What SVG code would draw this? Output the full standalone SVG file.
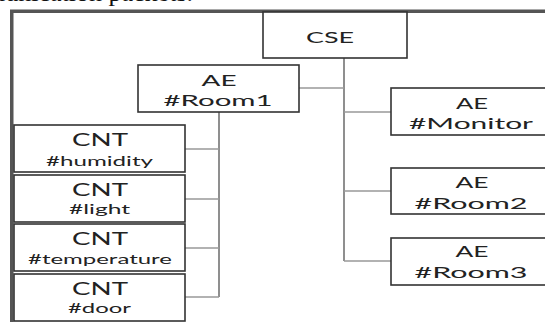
<svg xmlns="http://www.w3.org/2000/svg" width="545" height="322" viewBox="0 0 545 322">
<style>
.box{fill:#fff;stroke:#333;stroke-width:1.6}
.t{font-family:Lato,"Open Sans",sans-serif;fill:#222;text-anchor:middle}
.big{font-size:16px}
.cnt{font-size:17.5px}
.sub{font-size:14px}
.conV{stroke:#6a6a6a;stroke-width:1.5;fill:none}
.conH{stroke:#999;stroke-width:1.5;fill:none}
</style>
<rect width="545" height="322" fill="#fff"/>
<text x="193" y="1" font-family="Liberation Serif, serif" font-size="26" fill="#111" text-anchor="end">communication packets.</text>
<path d="M11.75 330 V11.25 H550" fill="none" stroke="#555" stroke-width="3.5"/>
<g id="connectors">
<path class="conV" d="M344 58 V261"/>
<path class="conH" d="M299 88 H344 M344 112 H391 M344 191 H391 M344 261 H391"/>
<path class="conV" d="M219 112 V297"/>
<path class="conH" d="M185 149 H219 M185 199 H219 M185 248 H219 M185 297 H219"/>
</g>
<g id="cse">
<rect class="box" x="263" y="12" width="144" height="46"/>
<text class="t big" x="330" y="43" textLength="48" lengthAdjust="spacingAndGlyphs">CSE</text>
</g>
<g id="room1">
<rect class="box" x="138" y="65" width="161" height="47"/>
<text class="t big" x="219" y="86" textLength="35" lengthAdjust="spacingAndGlyphs">AE</text>
<text class="t big" x="218" y="105.5" textLength="109" lengthAdjust="spacingAndGlyphs">#Room1</text>
</g>
<g id="monitor">
<rect class="box" x="391" y="88" width="160" height="47"/>
<text class="t big" x="472" y="109" textLength="32" lengthAdjust="spacingAndGlyphs">AE</text>
<text class="t big" x="471" y="128.5" textLength="124" lengthAdjust="spacingAndGlyphs">#Monitor</text>
</g>
<g id="room2">
<rect class="box" x="391" y="168" width="160" height="46"/>
<text class="t big" x="472" y="188" textLength="33" lengthAdjust="spacingAndGlyphs">AE</text>
<text class="t big" x="471" y="208.5" textLength="113" lengthAdjust="spacingAndGlyphs">#Room2</text>
</g>
<g id="room3">
<rect class="box" x="391" y="238" width="160" height="47"/>
<text class="t big" x="472" y="257" textLength="33" lengthAdjust="spacingAndGlyphs">AE</text>
<text class="t big" x="471" y="278" textLength="113" lengthAdjust="spacingAndGlyphs">#Room3</text>
</g>
<g id="humidity">
<rect class="box" x="14" y="125" width="171" height="47"/>
<text class="t cnt" x="100" y="146" textLength="56" lengthAdjust="spacingAndGlyphs">CNT</text>
<text class="t sub" x="99.5" y="166" textLength="107" lengthAdjust="spacingAndGlyphs">#humidity</text>
</g>
<g id="light">
<rect class="box" x="14" y="175" width="171" height="47"/>
<text class="t cnt" x="100" y="196" textLength="56" lengthAdjust="spacingAndGlyphs">CNT</text>
<text class="t sub" x="99.5" y="214" textLength="61" lengthAdjust="spacingAndGlyphs">#light</text>
</g>
<g id="temperature">
<rect class="box" x="14" y="224" width="171" height="47"/>
<text class="t cnt" x="100" y="245" textLength="56" lengthAdjust="spacingAndGlyphs">CNT</text>
<text class="t sub" x="100" y="264" textLength="144" lengthAdjust="spacingAndGlyphs">#temperature</text>
</g>
<g id="door">
<rect class="box" x="14" y="274" width="171" height="47"/>
<text class="t cnt" x="100" y="295" textLength="56" lengthAdjust="spacingAndGlyphs">CNT</text>
<text class="t sub" x="99.5" y="313" textLength="63" lengthAdjust="spacingAndGlyphs">#door</text>
</g>
</svg>
